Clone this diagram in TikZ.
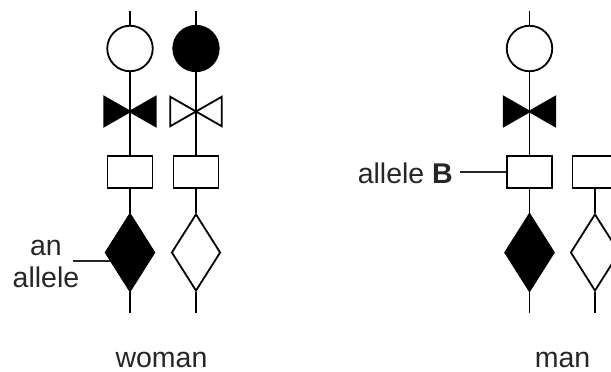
\documentclass[tikz,border=0pt]{standalone}
\usepackage{fontspec}
\setmainfont{Liberation Sans}
\usetikzlibrary{shapes.geometric}
\begin{document}
\begin{tikzpicture}[x=1pt,y=-1pt,
  ln/.style={line width=1.8pt},
  lead/.style={line width=1.2pt, black!85},
  bead/.style={circle, draw, ln, minimum size=45.5pt, inner sep=0pt, fill=white},
  box/.style={rectangle, draw, ln, minimum width=45pt, minimum height=32pt, inner sep=0pt, fill=white},
  gem/.style={diamond, draw, ln, minimum width=49pt, minimum height=77pt, inner sep=0pt, fill=white},
  tie/.style={rectangle, minimum width=51pt, minimum height=29pt, inner sep=0pt},
  full/.style={fill=black},
  lbl/.style={text=black!85, font=\fontsize{28.5}{32}\selectfont, inner sep=0pt},
]
\useasboundingbox (0,0) rectangle (611,372);

% chromosome A (woman, left)
\coordinate (tA) at (130,11);
\coordinate (eA) at (130,313);
\node[bead] (cA) at (130,48.5) {};
\node[tie] (bA) at (130,111.5) {};
\node[box] (rA) at (130,172) {};
\node[gem] (dA) at (130,252.5) {};
% chromosome B (woman, right)
\coordinate (tB) at (196,11);
\coordinate (eB) at (196,313);
\node[bead, full] (cB) at (196,48.5) {};
\node[tie] (bB) at (196,111.5) {};
\node[box] (rB) at (196,172) {};
\node[gem] (dB) at (196,252.5) {};
% chromosome C (man, left)
\coordinate (tC) at (529.5,11);
\coordinate (eC) at (529.5,313);
\node[bead] (cC) at (529.5,48.5) {};
\node[tie] (bC) at (529.5,111.5) {};
\node[box] (rC) at (529.5,172) {};
\node[gem] (dC) at (529.5,252.5) {};
% chromosome D (man, right)
\coordinate (eD) at (595,313);
\node[box] (rD) at (595,172) {};
\node[gem] (dD) at (595,252.5) {};

% labels
\node[lbl, align=center, anchor=base] (lab1) at (46,287) {an\\allele};
\coordinate (lA) at (73,261);
\node[lbl, anchor=base east] (lab2) at (453,183) {allele \textbf{B}};
\coordinate (lC) at (460,172);
\node[lbl, anchor=base] (lab3) at (161.5,367) {woman};
\node[lbl, anchor=base] (lab4) at (562.5,367) {man};

% connectors
\draw[ln] (tA) -- (cA.north) (cA.south) -- (rA.north) (rA.south) -- (dA.north) (dA.south) -- (eA);
\draw[ln] (tB) -- (cB.north) (cB.south) -- (rB.north) (rB.south) -- (dB.north) (dB.south) -- (eB);
\draw[ln] (tC) -- (cC.north) (cC.south) -- (rC.north) (rC.south) -- (dC.north) (dC.south) -- (eC);
\draw[ln] (rD.south) -- (dD.north) (dD.south) -- (eD);
\draw[lead] (lA) -- (lA -| dA.center);
\draw[lead] (lC) -- (rC.west);

% filled alleles drawn over the leader line
\node[gem, full] at (dA) {};
\node[gem, full] at (dC) {};

% bow ties
\draw[ln, full] (bA.north west) -- (bA.south west) -- (bA.center) -- cycle
                (bA.north east) -- (bA.south east) -- (bA.center) -- cycle;
\draw[ln, fill=white] (bB.north west) -- (bB.south west) -- (bB.center) -- cycle
                (bB.north east) -- (bB.south east) -- (bB.center) -- cycle;
\draw[ln, full] (bC.north west) -- (bC.south west) -- (bC.center) -- cycle
                (bC.north east) -- (bC.south east) -- (bC.center) -- cycle;
\end{tikzpicture}
\end{document}
